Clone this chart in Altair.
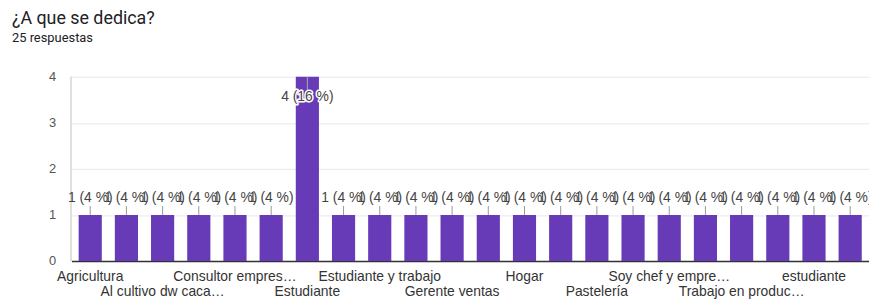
import altair as alt
import pandas as pd

categories = [
    "Agricultura", "Agricultura y ganadería", "Al cultivo dw caca…", "Comerciante",
    "Consultor empres…", "Docente", "Estudiante", "Estudiante univers…",
    "Estudiante y trabajo", "Ganadería", "Gerente ventas", "Guía turístico",
    "Hogar", "Ingeniero agrónomo", "Pastelería", "Productor de cacao",
    "Soy chef y empre…", "Técnico agrícola", "Trabajo en produc…", "Ventas",
    "estudiante", "productor",
]
counts = [1, 1, 1, 1, 1, 1, 4, 1, 1, 1, 1, 1, 1, 1, 1, 1, 1, 1, 1, 1, 1, 1]
total = 25
y_ticks = [0, 0.5, 1, 1.5, 2, 2.5, 3, 3.5, 4]

df = pd.DataFrame({"category": categories, "count": counts})
n = len(categories)

FONT = "Roboto"
CFONT = "Liberation Sans, Arial"
PURPLE = "#673ab7"

x_enc = alt.X(
    "category:N",
    sort=categories,
    scale=alt.Scale(paddingInner=0.36, paddingOuter=0.2),
    axis=alt.Axis(
        title=None, ticks=False, labelAngle=0, labelOverlap=False,
        labelPadding=8.5, labelFontSize=14, labelFont=CFONT, labelColor="#333",
        labelLineHeight=15.5, labelBaseline="top", labelLimit=0,
        domainColor="#333", domainWidth=1.3, grid=False,
        labelExpr=(
            f"round(datum.index*{n-1}) % 2 == 1 ? '' : "
            f"(round(datum.index*{n-1}) % 4 == 0 ? datum.label : ['', datum.label])"
        ),
    ),
)
y_enc = alt.Y(
    "count:Q",
    scale=alt.Scale(domain=[0, 4], nice=False),
    axis=alt.Axis(
        title=None, values=y_ticks, ticks=False, labelPadding=16,
        labelFontSize=13, labelFont=CFONT, labelColor="#555",
        labelExpr="datum.value % 1 == 0 ? datum.label : ''",
        domain=False,
        gridColor={"condition": {"test": "datum.value % 1 == 0", "value": "#e8e8e8"}, "value": "#f4f4f4"},
    ),
)

base = alt.Chart(df).transform_calculate(
    label=f"datum.count + ' (' + round(datum.count*100/{total}) + ' %)'"
)

bars = base.mark_bar(color=PURPLE).encode(x=x_enc, y=y_enc)

# left plot border
border = base.mark_rule(color="#e0e0e0").encode(
    x=alt.value(0), y=alt.value(0), y2=alt.value(186)
)

small = base.transform_filter("datum.count < 4")
big = base.transform_filter("datum.count >= 4")
xs = alt.X("category:N", sort=categories)

rule_small = small.mark_rule(color="#999", y2Offset=-9).encode(
    x=xs, y="count:Q", y2="count"
)
text_small = small.mark_text(
    baseline="bottom", dy=-10, font=CFONT, fontSize=14, color="#444"
).encode(x=xs, y="count:Q", text="label:N")

rule_big = big.mark_rule(color="#aaa", y2Offset=14).encode(
    x=xs, y="count:Q", y2="count"
)
text_big_halo = big.mark_text(
    baseline="middle", dy=20, font=CFONT, fontSize=14, color="white",
    stroke="white", strokeWidth=3, strokeJoin="round",
).encode(x=xs, y="count:Q", text="label:N")
text_big = big.mark_text(
    baseline="middle", dy=20, font=CFONT, fontSize=14, color="#444",
).encode(x=xs, y="count:Q", text="label:N")

chart = alt.layer(
    border, bars, rule_small, text_small, rule_big, text_big_halo, text_big
).properties(
    width=805,
    height=186,
    autosize="none",
    padding={"left": 64, "top": 68, "right": 0, "bottom": 41},
    title=alt.TitleParams(
        text="¿A que se dedica?",
        subtitle="25 respuestas",
        anchor="start",
        frame="group",
        dx=-60,
        offset=26,
        font=FONT,
        fontSize=18,
        fontWeight="normal",
        color="#202124",
        subtitleFont=FONT,
        subtitleFontSize=13,
        subtitleColor="#202124",
        subtitlePadding=4,
    ),
).configure_view(stroke=None)

chart.save("out.html", embed_options={"renderer": "svg", "actions": False})
